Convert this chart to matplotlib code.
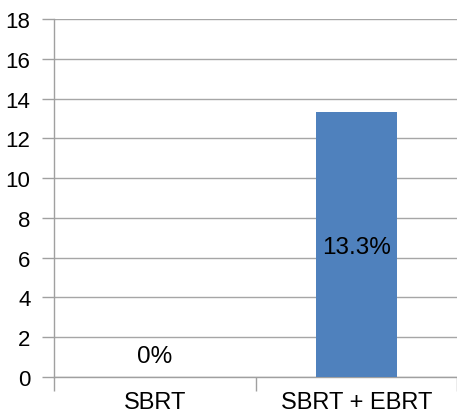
import matplotlib
matplotlib.use("Agg")
import matplotlib.pyplot as plt

categories = ["SBRT", "SBRT + EBRT"]
values = [0, 13.3]
labels = ["0%", "13.3%"]
yticks = [0, 2, 4, 6, 8, 10, 12, 14, 16, 18]

plt.rcParams['font.family'] = ['Liberation Sans', 'DejaVu Sans']

fig = plt.figure(figsize=(4.57, 4.14), dpi=100)
ax = fig.add_axes([54/457, 36/414, 403/457, 358/414])

x = list(range(len(categories)))
ax.bar(x, values, width=0.4, color="#4F81BD", zorder=3)

ax.set_xlim(-0.5, len(categories) - 0.5)
ax.set_ylim(0, 18)
ax.set_yticks(yticks)
ax.set_yticklabels([str(t) for t in yticks], fontsize=16)
ax.yaxis.grid(True, color="#a6a6a6", linewidth=1, zorder=0)
ax.set_axisbelow(True)

ax.set_xticks([i - 0.5 for i in range(len(categories) + 1)])
ax.set_xticklabels([])
ax.set_xticks(x, minor=True)
ax.set_xticklabels(categories, minor=True, fontsize=17)
ax.tick_params(axis='x', which='minor', length=0, pad=10)
ax.tick_params(axis='x', which='major', length=10, color="#a0a0a0", width=1)
ax.tick_params(axis='y', length=9, color="#a0a0a0", width=1, pad=8)

for s in ["top", "right"]:
    ax.spines[s].set_visible(False)
for s in ["left", "bottom"]:
    ax.spines[s].set_color("#a0a0a0")
    ax.spines[s].set_linewidth(1)

label_y = [1.05, 6.55]
for xi, v, lab, ly in zip(x, values, labels, label_y):
    ax.text(xi, ly, lab, ha="center", va="center", fontsize=17.5, zorder=4)

fig.savefig("out.png", dpi=100)
